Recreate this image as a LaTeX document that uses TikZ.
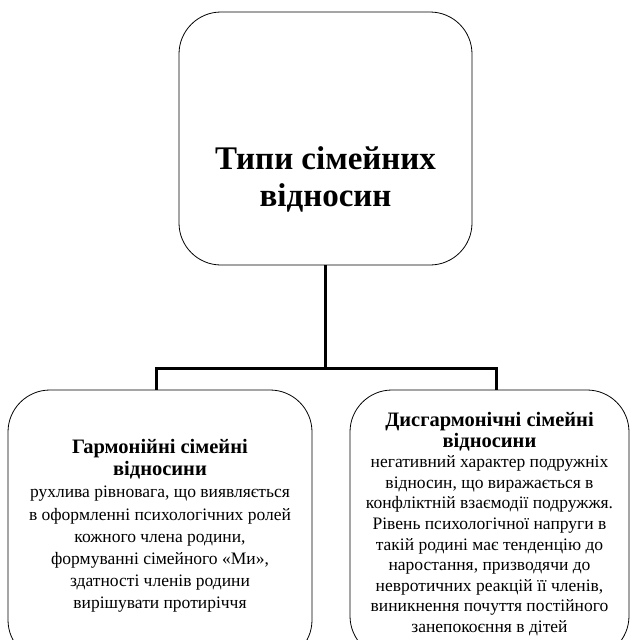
\documentclass[tikz,border=0pt]{standalone}
\usepackage{fontspec}
\setmainfont{Liberation Serif}
\newcommand{\hdfont}{\fontsize{20.5}{22}\selectfont\bfseries}
\begin{document}
\begin{tikzpicture}[x=1pt,y=-1pt,
  box/.style={draw,line width=0.8pt,rounded corners=42pt,align=center,inner sep=0pt},
  conn/.style={line width=3pt}]
\useasboundingbox (0,0) rectangle (636,640);
\node[box,minimum width=293pt,minimum height=253pt] (top) at (325.5,138.5) {};
\node[align=center,inner sep=0pt,font=\fontsize{33}{37}\selectfont\bfseries]
  (toptext) at (325.5,179) {Типи сімейних\\відносин};
\node[box,minimum width=304pt,minimum height=272pt,font=\fontsize{17.5}{22.2}\selectfont] (lbox) at (160,526)
  {\hdfont Гармонійні сімейні\\
   \hdfont відносини\\
   рухлива рівновага, що виявляється\\
   в оформленні психологічних ролей\\
   кожного члена родини,\\
   формуванні сімейного «Ми»,\\
   здатності членів родини\\
   вирішувати протиріччя};
\node[box,minimum width=279pt,minimum height=268pt,font=\fontsize{17.5}{20.6}\selectfont] (rbox) at (489.5,524)
  {\hdfont Дисгармонічні сімейні\\
   \hdfont відносини\\
   негативний характер подружніх\\
   відносин, що виражається в\\
   конфліктній взаємодії подружжя.\\
   Рівень психологічної напруги в\\
   такій родині має тенденцію до\\
   наростання, призводячи до\\
   невротичних реакцій її членів,\\
   виникнення почуття постійного\\
   занепокоєння в дітей};
\coordinate (j) at (325.5,368);
\coordinate (jl) at (156,368);
\coordinate (jr) at (496,368);
\draw[conn] (top.south) -- (j);
\draw[conn,line cap=rect] (jl) -- (jr);
\draw[conn] (jl) -- (jl |- lbox.north);
\draw[conn] (jr) -- (jr |- rbox.north);
\end{tikzpicture}
\end{document}
